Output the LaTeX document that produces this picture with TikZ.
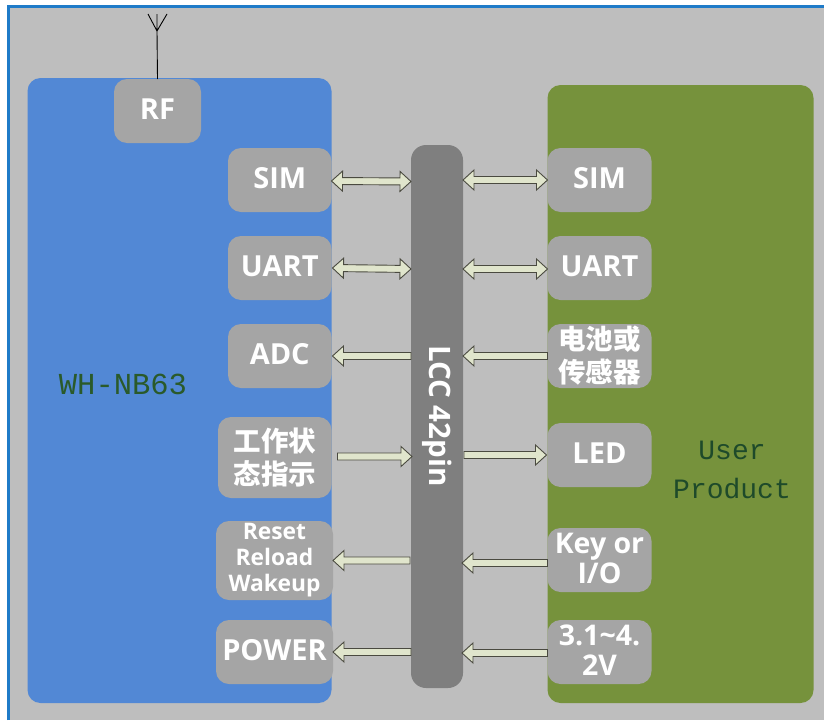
\documentclass[tikz,border=0pt]{standalone}
\usepackage{fontspec}
\setmainfont{Open Sans}
\newfontfamily\cjkf{Noto Sans CJK SC}
\newfontfamily\monof{Liberation Mono}
\usetikzlibrary{calc}
\definecolor{pagebg}{HTML}{BEBEBE}
\definecolor{frameblue}{HTML}{1F7BC8}
\definecolor{modblue}{HTML}{5288D5}
\definecolor{prodgreen}{HTML}{76923C}
\definecolor{busgray}{HTML}{7F7F7F}
\definecolor{portgray}{HTML}{A5A5A5}
\definecolor{arrowfill}{HTML}{E0E5CC}
\definecolor{arrowline}{HTML}{4A4A40}
\definecolor{labA}{HTML}{2A5A2A}
\definecolor{labB}{HTML}{1E4A2A}
\tikzset{
  x=1pt,y=-1pt,
  panel/.style={inner sep=0pt,outer sep=0pt,rounded corners=13pt},
  port/.style={panel,fill=portgray,text=white,align=center,font=\bfseries\fontsize{29}{31}\selectfont},
  cjkport/.style={port,font=\cjkf\bfseries\fontsize{27.5}{33}\selectfont},
  blockarrow/.style={fill=arrowfill,draw=arrowline,line width=.9pt,line join=miter},
  biglabel/.style={inner sep=0pt,font=\monof\fontsize{30.5}{39}\selectfont,align=center},
}
\newcommand\up[1]{\raisebox{3.3pt}{#1}}
% box{name}{x1}{y1}{x2}{y2}{style}{text}
\newcommand\boxnode[7]{\node[#6,minimum width=#4pt-#2pt,minimum height=#5pt-#3pt] (#1) at ({(#2+#4)/2},{(#3+#5)/2}) {#7};}
% one-headed block arrow from #1 to #2
\newcommand\onearrow[2]{%
  \coordinate (tA) at (#1); \coordinate (tB) at (#2);
  \coordinate (hB) at ($(tB)!11pt!(tA)$);
  \draw[blockarrow] ($(tA)!3.5pt!90:(tB)$) -- ($(hB)!3.5pt!90:(tB)$) -- ($(hB)!10pt!90:(tB)$) -- (tB)
     -- ($(hB)!10pt!-90:(tB)$) -- ($(hB)!3.5pt!-90:(tB)$) -- ($(tA)!3.5pt!-90:(tB)$) -- cycle;}
% two-headed block arrow between #1 and #2
\newcommand\twoarrow[2]{%
  \coordinate (tA) at (#1); \coordinate (tB) at (#2);
  \coordinate (hB) at ($(tB)!11pt!(tA)$);
  \coordinate (hA) at ($(tA)!11pt!(tB)$);
  \draw[blockarrow] (tA) -- ($(hA)!10pt!90:(tB)$) -- ($(hA)!3.5pt!90:(tB)$) -- ($(hB)!3.5pt!90:(tB)$) -- ($(hB)!10pt!90:(tB)$) -- (tB)
     -- ($(hB)!10pt!-90:(tB)$) -- ($(hB)!3.5pt!-90:(tB)$) -- ($(hA)!3.5pt!-90:(tB)$) -- ($(hA)!10pt!-90:(tB)$) -- cycle;}
\begin{document}
\begin{tikzpicture}
\useasboundingbox (0,0) rectangle (824,720);
\fill[white] (0,0) rectangle (824,720);
\fill[pagebg] (9,7) rectangle (824,720);
\draw[frameblue,line width=2.2pt] (8.5,720) -- (8.5,6.5) -- (824,6.5);
% panels
\boxnode{module}{27.5}{78}{331.5}{703}{panel,fill=modblue}{}
\boxnode{product}{547.5}{85}{813.5}{703}{panel,fill=prodgreen}{}
\boxnode{bus}{411}{145}{463}{688}{panel,fill=busgray,rounded corners=15pt}{}
% antenna
\coordinate (fork) at (157,31);
\coordinate (antL) at (148,14);
\coordinate (antM) at (157,14);
\coordinate (antR) at (167,14);
% ports left
\boxnode{rf}{114}{79}{201}{143}{port}{\up{RF}}
\draw[black,line width=.9pt] (rf.north) -- (fork) (fork) -- (antL) (fork) -- (antM) (fork) -- (antR);
\boxnode{simL}{228}{148}{331.5}{212}{port}{\up{SIM}}
\boxnode{uartL}{228}{236}{331.5}{300}{port}{\up{UART}}
\boxnode{adc}{228}{324}{331.5}{388}{port}{\up{ADC}}
\boxnode{state}{218}{417}{331.5}{498}{cjkport}{工作状\\态指示}
\boxnode{reset}{216}{521}{333}{600}{port,font=\bfseries\fontsize{22.8}{26}\selectfont}{Reset\\Reload\\Wakeup}
\boxnode{power}{216}{620}{333}{684}{port}{\up{POWER}}
% ports right
\boxnode{simR}{547.5}{148}{651.5}{212}{port}{\up{SIM}}
\boxnode{uartR}{547.5}{236}{651.5}{300}{port}{\up{UART}}
\boxnode{batt}{547.5}{324}{651.5}{388}{cjkport}{电池或\\传感器}
\boxnode{led}{547.5}{423}{651.5}{487}{port}{\up{LED}}
\boxnode{key}{547.5}{528}{651.5}{592}{port,font=\bfseries\fontsize{28.5}{30}\selectfont}{\up{Key or}\\\up{I/O}}
\boxnode{volt}{547.5}{620}{651.5}{684}{port,font=\bfseries\fontsize{28.5}{30}\selectfont}{\up{3.1\textasciitilde 4.}\\\up{2V}}
% labels
\node[biglabel,text=labA] (modlabel) at (123,384) {WH-NB63};
\node[biglabel,text=labB,font=\monof\fontsize{28}{39}\selectfont] (prodlabel) at (732,470) {User\\Product};
\node[rotate=-90,text=white,inner sep=0pt,font=\bfseries\fontsize{29.5}{31}\selectfont] (buslabel) at (437,416) {LCC 42pin};
% arrows left
\twoarrow{$(simL.east)+(0,1)$}{$(bus.west |- simL.east)+(0,1.5)$}
\twoarrow{$(uartL.east)+(1,0)$}{$(bus.west |- uartL.east)+(0,1)$}
\onearrow{bus.west |- adc.east}{$(adc.east)+(1,0)$}
\onearrow{$(state.east)+(6,-1)$}{$(bus.west |- state.east)+(1,-1)$}
\onearrow{$(bus.west |- reset.east)+(-1,0)$}{reset.east}
\onearrow{bus.west |- power.east}{power.east}
% arrows right
\twoarrow{$(bus.east |- simR.west)+(0,0)$}{simR.west}
\twoarrow{$(bus.east |- uartR.west)+(0,1)$}{$(uartR.west)+(0,1)$}
\onearrow{batt.west}{bus.east |- batt.west}
\onearrow{$(bus.east |- led.west)+(1,0)$}{$(led.west)+(-1,0)$}
\onearrow{$(key.west)+(0,3)$}{$(bus.east |- key.west)+(-1,3)$}
\onearrow{$(volt.west)+(0,1)$}{$(bus.east |- volt.west)+(-1,1)$}
\end{tikzpicture}
\end{document}
